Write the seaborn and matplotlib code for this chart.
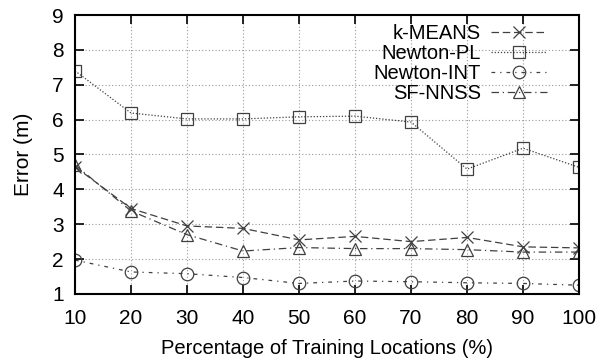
import matplotlib
matplotlib.use("Agg")
import matplotlib.pyplot as plt
import seaborn as sns
import pandas as pd

sns.set_style("ticks")
plt.rcParams['font.family'] = ['Liberation Sans', 'DejaVu Sans']
plt.rcParams['text.color'] = 'black'
plt.rcParams['axes.labelcolor'] = 'black'

pct = [10, 20, 30, 40, 50, 60, 70, 80, 90, 100]
kmeans = [4.65, 3.45, 2.95, 2.88, 2.55, 2.65, 2.50, 2.62, 2.35, 2.32]
newton_pl = [7.40, 6.19, 6.02, 6.02, 6.08, 6.10, 5.93, 4.58, 5.18, 4.63]
newton_int = [1.97, 1.63, 1.58, 1.47, 1.30, 1.37, 1.35, 1.32, 1.30, 1.25]
sf_nnss = [4.70, 3.38, 2.70, 2.23, 2.33, 2.30, 2.30, 2.27, 2.20, 2.20]

series = [
    ("k-MEANS", kmeans, "x", (0, (6, 3))),
    ("Newton-PL", newton_pl, "s", (0, (1, 1.5))),
    ("Newton-INT", newton_int, "o", (0, (3, 4, 1, 4))),
    ("SF-NNSS", sf_nnss, "^", (0, (6, 3, 1, 3))),
]

fig = plt.figure(figsize=(5.97, 3.58), dpi=100)
ax = fig.add_axes([0.1256, 0.179, 0.8444, 0.779])

for name, vals, mk, ls in series:
    df = pd.DataFrame({"pct": pct, "err": vals})
    sns.lineplot(data=df, x="pct", y="err", ax=ax, label=name,
                 color="#404040", linewidth=0.9, linestyle=ls,
                 marker=mk, markersize=9, markerfacecolor="none",
                 markeredgecolor="#404040", markeredgewidth=0.9)

ax.set_xlim(10, 100)
ax.set_ylim(1, 9)
ax.set_xticks(pct)
ax.set_yticks(range(1, 10))
ax.tick_params(direction="in", length=6.5, width=1.2, top=True, right=True,
               labelsize=15, colors="black", labelcolor="black")
ax.tick_params(axis="x", pad=11)
ax.tick_params(axis="y", pad=8)
ax.grid(True, linestyle=(0, (1, 2)), color="#999999", linewidth=0.8)
for sp in ax.spines.values():
    sp.set_visible(True)
    sp.set_linewidth(1.5)
    sp.set_color("black")

ax.set_xlabel("Percentage of Training Locations (%)", fontsize=14.5,
              labelpad=8, color="black")
ax.set_ylabel("Error (m)", fontsize=15, labelpad=14, color="black")

leg = ax.legend(loc="upper right", frameon=False, markerfirst=False,
                fontsize=14.5, handlelength=2.8, handletextpad=0.5,
                labelspacing=0.05, borderaxespad=0.3,
                bbox_to_anchor=(0.965, 1.02))
for t in leg.get_texts():
    t.set_ha("right")
    t.set_color("black")
leg._legend_box.align = "right"

fig.savefig("out.png", dpi=100)
